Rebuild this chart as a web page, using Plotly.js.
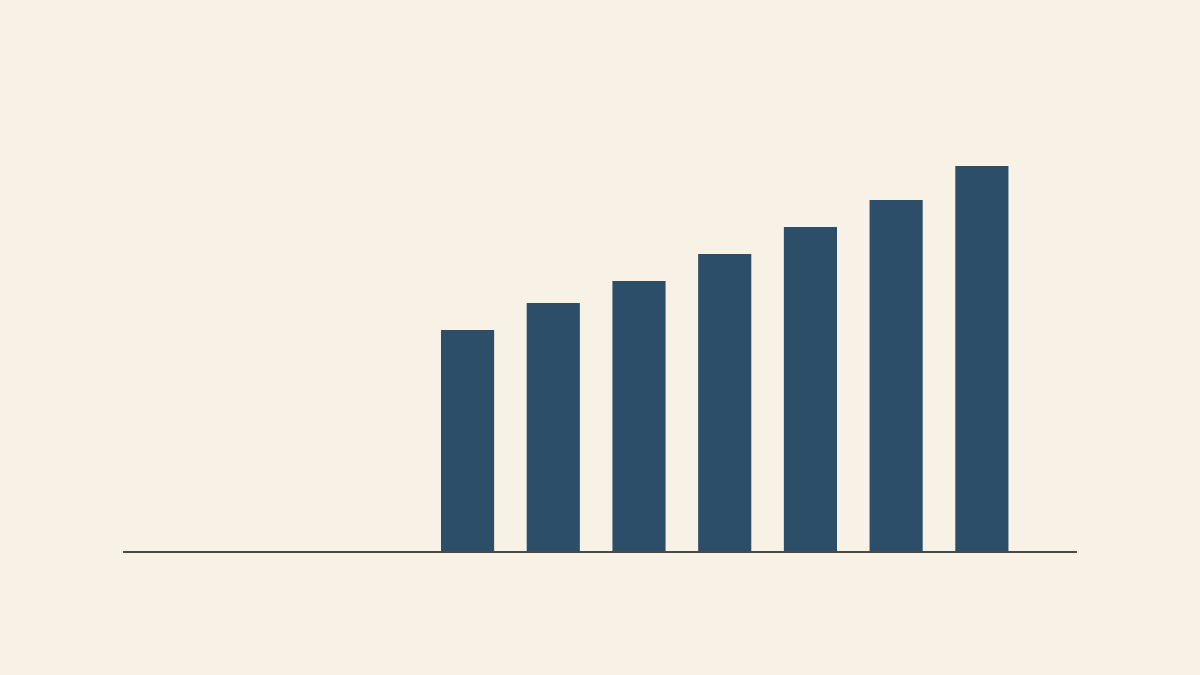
<!DOCTYPE html>
<html>
<head>
<meta charset="utf-8">
<script src="https://cdn.plot.ly/plotly-3.0.1.min.js"></script>
<style>
  html, body { margin: 0; padding: 0; background: #f7f1e6; }
  #chart { width: 1200px; height: 675px; }
</style>
</head>
<body>
<div id="chart"></div>
<script>
// bar categories and values
const categories = ['1', '2', '3', '4', '5', '6', '7'];
const values = [22.1, 24.8, 27.0, 29.7, 32.4, 35.1, 38.5];

const trace = {
  type: 'bar',
  x: categories,
  y: values,
  width: 0.62,
  marker: { color: '#2d4e69' },
  hoverinfo: 'x+y'
};

const layout = {
  width: 1200,
  height: 675,
  paper_bgcolor: '#f7f1e6',
  plot_bgcolor: '#f7f1e6',
  margin: { l: 123, r: 123, t: 100, b: 124 },
  showlegend: false,
  xaxis: {
    type: 'category',
    range: [-4.02, 7.11],
    showline: true,
    linecolor: '#4a4a48',
    linewidth: 1.5,
    showgrid: false,
    zeroline: false,
    ticks: '',
    showticklabels: false
  },
  yaxis: {
    range: [0, 45.1],
    visible: false,
    showgrid: false,
    zeroline: false
  }
};

Plotly.newPlot('chart', [trace], layout, { displayModeBar: false, staticPlot: true });
</script>
</body>
</html>
